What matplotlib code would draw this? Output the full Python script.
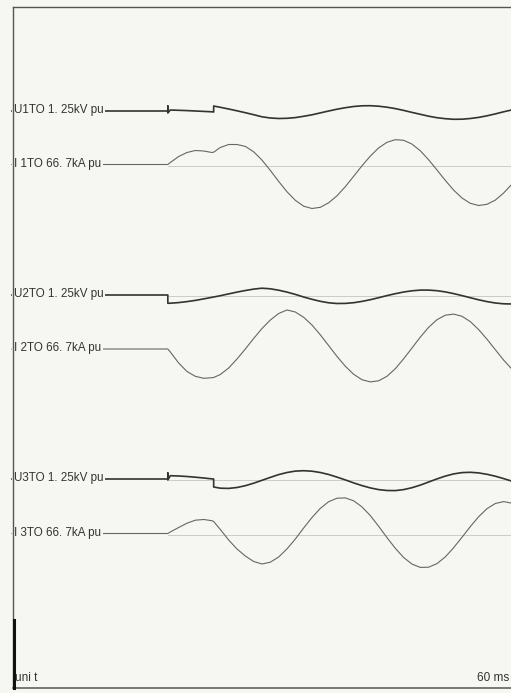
import matplotlib
matplotlib.use("Agg")
import matplotlib.pyplot as plt
import matplotlib.font_manager as fm

# ---------------- data (time in ms, values in pu) ----------------
channel_labels = ["U1TO 1. 25kV pu", "I 1TO 66. 7kA pu",
                  "U2TO 1. 25kV pu", "I 2TO 66. 7kA pu",
                  "U3TO 1. 25kV pu", "I 3TO 66. 7kA pu"]
tail_t = list(range(25, 61))

u1_head_t = [0, 18.7, 18.7, 18.7, 19, 20, 21, 22, 23, 24, 24.2, 24.2]
u1_head_v = [0, 0, 0.05, -0.02, 0.01, 0.007, 0.004, 0.0, -0.004, -0.008, -0.01, 0.05]
u1_tail_v = [0.037, 0.020, 0.002, -0.017, -0.037, -0.058, -0.070, -0.075, -0.073, -0.066,
             -0.053, -0.038, -0.019, 0.000, 0.018, 0.033, 0.045, 0.052, 0.053, 0.048,
             0.038, 0.024, 0.006, -0.014, -0.033, -0.052, -0.067, -0.077, -0.083, -0.082,
             -0.075, -0.064, -0.048, -0.029, -0.008, 0.011]

i1_head_t = [0, 18.7, 19, 20, 21, 22, 23, 24, 24.2]
i1_head_v = [0, 0, 0.02, 0.08, 0.12, 0.14, 0.135, 0.12, 0.123]
i1_tail_v = [0.17, 0.20, 0.20, 0.181, 0.127, 0.044, -0.059, -0.169, -0.273, -0.358,
             -0.417, -0.44, -0.428, -0.383, -0.313, -0.222, -0.118, -0.013, 0.084, 0.166,
             0.222, 0.248, 0.242, 0.204, 0.137, 0.047, -0.055, -0.159, -0.256, -0.335,
             -0.388, -0.41, -0.398, -0.356, -0.285, -0.196]

u2_head_t = [0, 18.7, 18.7, 19, 20, 21, 22, 23, 24, 24.2]
u2_head_v = [0, 0, -0.083, -0.082, -0.076, -0.066, -0.054, -0.039, -0.023, -0.02]
u2_tail_v = [-0.007, 0.011, 0.029, 0.045, 0.059, 0.068, 0.062, 0.048, 0.029, 0.006,
             -0.02, -0.043, -0.063, -0.078, -0.085, -0.084, -0.077, -0.064, -0.047, -0.027,
             -0.006, 0.013, 0.03, 0.042, 0.049, 0.049, 0.043, 0.031, 0.014, -0.006,
             -0.027, -0.048, -0.066, -0.08, -0.088, -0.09]

i2_head_t = [0, 18.7, 19, 20, 21, 22, 23, 24, 24.2]
i2_head_v = [0, 0, -0.03, -0.14, -0.225, -0.273, -0.293, -0.287, -0.285]
i2_tail_v = [-0.255, -0.19, -0.10, 0.00, 0.105, 0.205, 0.29, 0.355, 0.39, 0.37,
             0.317, 0.24, 0.142, 0.034, -0.074, -0.172, -0.253, -0.307, -0.329, -0.318,
             -0.273, -0.197, -0.098, 0.01, 0.119, 0.217, 0.293, 0.338, 0.349, 0.327,
             0.274, 0.194, 0.098, -0.007, -0.111, -0.202]

u3_head_t = [0, 18.7, 18.7, 18.7, 19, 20, 21, 22, 23, 24, 24.2, 24.2]
u3_head_v = [0, 0, 0.06, -0.01, 0.033, 0.03, 0.025, 0.018, 0.01, 0.001, 0.0, -0.08]
u3_tail_v = [-0.092, -0.094, -0.085, -0.067, -0.042, -0.013, 0.016, 0.044, 0.065, 0.079,
             0.083, 0.078, 0.065, 0.045, 0.019, -0.009, -0.039, -0.066, -0.089, -0.106,
             -0.115, -0.116, -0.106, -0.087, -0.061, -0.03, 0.001, 0.029, 0.051, 0.064,
             0.067, 0.061, 0.047, 0.028, 0.004, -0.022]

i3_head_t = [0, 18.7, 19, 20, 21, 22, 23, 24, 24.2]
i3_head_v = [0, 0, 0.015, 0.06, 0.103, 0.133, 0.14, 0.128, 0.12]
i3_tail_v = [0.04, -0.065, -0.155, -0.225, -0.28, -0.305, -0.287, -0.235, -0.154, -0.055,
             0.055, 0.16, 0.251, 0.318, 0.353, 0.356, 0.327, 0.266, 0.179, 0.072,
             -0.041, -0.148, -0.24, -0.306, -0.339, -0.337, -0.301, -0.234, -0.142, -0.038,
             0.069, 0.168, 0.248, 0.30, 0.319, 0.303]

time_label = "60 ms"
unit_label = "uni t"

# ---------------- layout / style ----------------
W, H = 511, 693
PX_PER_MS = 8.333
X0 = 12.0                   # pixel where t = 0
GAIN = 100.0                # pixels per pu
BASELINES = [111, 164.5, 295, 349, 479, 533.5]
REF_LINE = [False, True, True, False, True, True]
BG = "#f6f6f3"

names = {f.name for f in fm.fontManager.ttflist}
FONT = "Liberation Sans Narrow" if "Liberation Sans Narrow" in names else "Liberation Sans"
LABEL_SIZE = 10 if FONT == "Liberation Sans Narrow" else 8.4

def px2t(x):
    return (x - X0) / PX_PER_MS

fig = plt.figure(figsize=(W / 100, H / 100), dpi=100, facecolor=BG)
ax = fig.add_axes([0, 0, 1, 1])
ax.set_facecolor(BG)
ax.set_xlim(px2t(0), px2t(W))
ax.set_ylim(H, 0)
ax.axis("off")

series = [
    (u1_head_t + tail_t, u1_head_v + u1_tail_v, True),
    (i1_head_t + tail_t, i1_head_v + i1_tail_v, False),
    (u2_head_t + tail_t, u2_head_v + u2_tail_v, True),
    (i2_head_t + tail_t, i2_head_v + i2_tail_v, False),
    (u3_head_t + tail_t, u3_head_v + u3_tail_v, True),
    (i3_head_t + tail_t, i3_head_v + i3_tail_v, False),
]

for (t, v, is_u), base, ref, lab in zip(series, BASELINES, REF_LINE, channel_labels):
    if ref:
        ax.plot([px2t(168), px2t(W)], [base + 1, base + 1], color="#c4c4c4", lw=0.6, zorder=1)
    y = [base - vv * GAIN for vv in v]
    if is_u:
        ax.plot(t, y, color="#333333", lw=1.2, zorder=3, solid_joinstyle="round")
    else:
        ax.plot(t, y, color="#666666", lw=0.8, zorder=3, solid_joinstyle="round")
    ax.text(px2t(14), base - 0.5, lab, fontsize=LABEL_SIZE, family=FONT, color="#333333",
            ha="left", va="center", zorder=5,
            bbox=dict(facecolor=BG, edgecolor="none", pad=1.2))

# frame
ax.plot([px2t(12.5), px2t(12.5)], [7, 688], color="#555555", lw=1.0, zorder=6)
ax.plot([px2t(12.5), px2t(W)], [7, 7], color="#555555", lw=1.0, zorder=6)
ax.plot([px2t(12.5), px2t(W)], [688, 688], color="#555555", lw=1.1, zorder=6)
# unit bar
ax.plot([px2t(13.5), px2t(13.5)], [620, 688], color="#111111", lw=2.2, zorder=7)

ax.text(px2t(15), 678, unit_label, fontsize=8.5, family=FONT, color="#333333",
        ha="left", va="center")
ax.text(px2t(509), 678, time_label, fontsize=8.5, family=FONT, color="#333333",
        ha="right", va="center")

fig.savefig("out.png", dpi=100, facecolor=BG)
